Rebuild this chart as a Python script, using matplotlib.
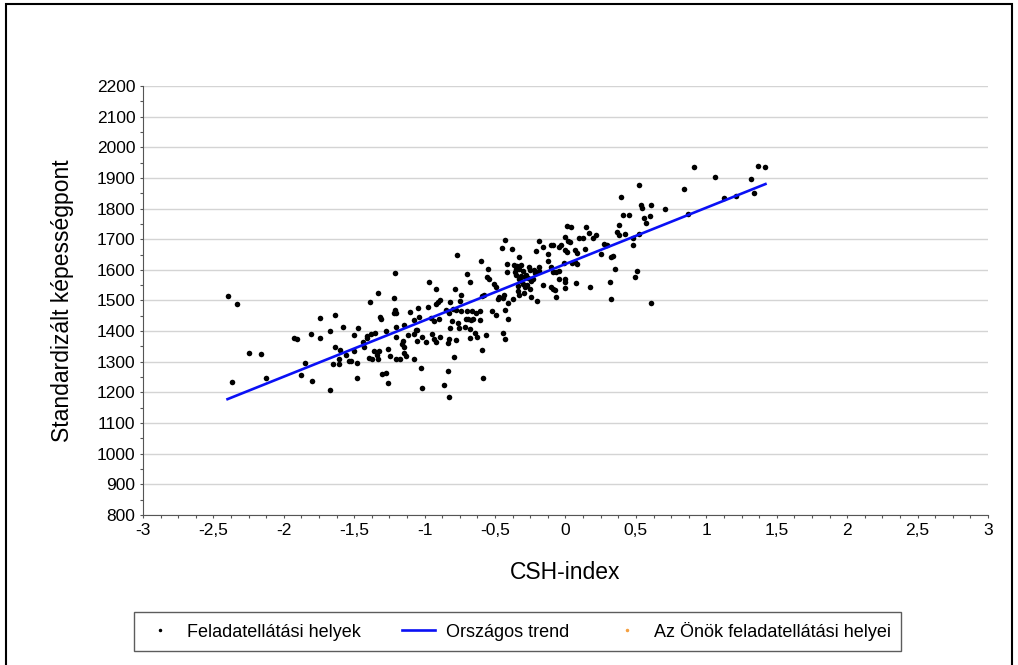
import matplotlib
matplotlib.use("Agg")
from matplotlib import pyplot as plt
from matplotlib.lines import Line2D
from matplotlib.patches import Rectangle
from matplotlib.ticker import MultipleLocator

plt.rcParams['font.family'] = ['Liberation Sans', 'DejaVu Sans']

# CSH-index of each site
csh = [
    -2.40, -2.33, -2.25, -2.16, -2.37, -2.13, -1.93, -1.91, -1.85, -1.88, -1.80, -1.81,
    -1.74, -1.74, -1.64, -1.67, -1.67, -1.58, -1.64, -1.60, -1.56, -1.61, -1.65, -1.61,
    -1.54, -1.52, -1.48, -1.50, -1.50, -1.47, -1.44, -1.43, -1.41, -1.48,
    -0.770, -0.599, -0.547, -1.211, -0.703, -0.556, -0.542, -0.680, -0.509, -0.490,
    -0.969, -0.784, -0.917, -1.334, -0.741, -0.580, -0.594, -0.888, -0.903, -0.922,
    -0.822, -0.751, -0.798, -0.779, -0.850, -1.387, -1.220, -0.974, -1.045, -1.102,
    -1.211, -1.220, -1.201, -1.315, -1.311, -0.703, -0.741, -0.665, -0.632, -0.604,
    -0.523, -0.490, -0.656, -0.694, -0.670, -0.708, -0.604, -0.765, -0.756, -0.717,
    -0.680, -0.642, -0.627, -0.680, -0.898, -0.931, -0.955, -1.040, -1.078, -0.827,
    -0.808, -0.822, -1.149, -1.206, -1.277, -1.353, -1.382, -1.410, -1.116, -1.078,
    -1.064, -1.054, -1.017, -0.945, -0.931, -0.922, -0.888, -0.827, -0.831, -0.779,
    -0.993, -1.054, -1.154, -1.159, -1.145, -1.206, -1.263, -1.249, -1.358, -1.325,
    -1.339, -1.334, -1.396, -1.372, -1.206, -1.173, -1.149, -1.130, -1.078, -0.594,
    -0.789, -0.561, -1.026, -1.306, -1.273, -1.263, -0.831, -0.865, -1.017, -0.827,
    -0.589,
    0.013, 0.041, 0.146, 0.170, 0.217, 0.378, 0.369, 0.383, -0.428, -0.006, 0.018,
    0.032, 0.098, 0.127, 0.193, -0.186, -0.087, -0.101, -0.044, -0.035, -0.163, -0.210,
    -0.452, -0.381, -0.006, 0.013, 0.070, 0.084, 0.136, 0.274, 0.293, 0.321, 0.336,
    0.250, -0.125, -0.125, -0.329, -0.414, -0.414, -0.367, -0.343, -0.315, -0.348,
    -0.329, -0.305, -0.357, -0.262, -0.253, -0.281, -0.291, -0.224, -0.215, -0.186,
    -0.186, -0.091, -0.068, -0.049, -0.106, -0.011, 0.046, 0.070, 0.079, -0.006,
    -0.006, -0.006, 0.075, 0.174, 0.350, 0.317, 0.321, -0.352, -0.319, -0.333, -0.315,
    -0.267, -0.248, -0.229, -0.305, -0.272, -0.286, -0.253, -0.163, -0.091, -0.077,
    -0.101, -0.049, -0.338, -0.333, -0.338, -0.295, -0.248, -0.205, -0.068, -0.376,
    -0.405, -0.438, -0.471, -0.443, -0.481, -0.433, -0.405, -0.447, -0.428,
    0.914, 1.365, 1.417, 1.061, 1.318, 0.838, 0.521, 0.392, 1.128, 1.213, 1.341, 0.535,
    0.540, 0.606, 0.706, 0.407, 0.449, 0.872, 0.559, 0.601, 0.573, 0.426, 0.521, 0.478,
    0.478, 0.511, 0.497, 0.606,
]
# standardised ability score of each site
score = [
    1513, 1488, 1329, 1325, 1233, 1246, 1378, 1375, 1296, 1257, 1236, 1390,
    1444, 1376, 1452, 1400, 1208, 1413, 1348, 1337, 1321, 1310, 1293, 1293,
    1301, 1303, 1297, 1336, 1387, 1411, 1365, 1347, 1376, 1248,
    1648, 1630, 1604, 1589, 1586, 1578, 1569, 1559, 1553, 1545,
    1561, 1536, 1536, 1526, 1518, 1517, 1515, 1502, 1495, 1489,
    1495, 1497, 1473, 1469, 1469, 1494, 1509, 1480, 1477, 1461,
    1469, 1458, 1460, 1447, 1441, 1465, 1467, 1467, 1458, 1465,
    1467, 1453, 1441, 1438, 1436, 1441, 1436, 1425, 1410, 1415,
    1406, 1395, 1380, 1377, 1441, 1433, 1442, 1445, 1436, 1458,
    1432, 1410, 1421, 1412, 1400, 1395, 1391, 1384, 1386, 1391,
    1404, 1404, 1382, 1390, 1373, 1365, 1382, 1373, 1360, 1371,
    1365, 1369, 1369, 1358, 1349, 1382, 1341, 1319, 1336, 1336,
    1322, 1310, 1312, 1310, 1308, 1308, 1328, 1319, 1308, 1338,
    1314, 1386, 1280, 1260, 1264, 1232, 1271, 1225, 1213, 1185,
    1247,
    1744, 1741, 1739, 1721, 1713, 1746, 1724, 1713, 1697, 1708, 1695,
    1691, 1704, 1704, 1704, 1695, 1682, 1682, 1676, 1682, 1674, 1663,
    1671, 1669, 1665, 1658, 1665, 1654, 1669, 1684, 1682, 1643, 1645,
    1652, 1652, 1630, 1643, 1619, 1593, 1615, 1613, 1615, 1604,
    1602, 1597, 1593, 1608, 1600, 1582, 1576, 1600, 1589, 1608,
    1597, 1593, 1593, 1595, 1608, 1623, 1621, 1626, 1619, 1569,
    1560, 1541, 1558, 1543, 1603, 1560, 1504, 1582, 1580, 1571, 1565,
    1573, 1565, 1571, 1554, 1550, 1543, 1539, 1552, 1539, 1534,
    1545, 1571, 1530, 1519, 1547, 1523, 1510, 1497, 1510, 1504,
    1493, 1517, 1510, 1508, 1504, 1469, 1438, 1393, 1375,
    1936, 1939, 1934, 1904, 1898, 1865, 1876, 1839, 1833, 1842, 1850, 1810,
    1803, 1811, 1799, 1779, 1779, 1781, 1770, 1776, 1752, 1718, 1717, 1703,
    1681, 1597, 1576, 1492,
]

# national trend line end points
trend_x = [-2.40, 1.42]
trend_y = [1178, 1880]

y_ticks = list(range(800, 2201, 100))
x_ticks = [-3, -2.5, -2, -1.5, -1, -0.5, 0, 0.5, 1, 1.5, 2, 2.5, 3]
x_labels = ['-3', '-2,5', '-2', '-1,5', '-1', '-0,5', '0', '0,5', '1', '1,5', '2', '2,5', '3']

fig = plt.figure(figsize=(10.18, 6.65), dpi=100)
ax = fig.add_axes([0.1405, 0.2256, 0.9705 - 0.1405, 0.8707 - 0.2256])

ax.scatter(csh, score, s=16, color='black', zorder=3, linewidths=0)
ax.plot(trend_x, trend_y, color='#0a10f5', lw=1.9, zorder=4)

ax.set_xlim(-3, 3)
ax.set_ylim(800, 2200)
ax.set_xticks(x_ticks)
ax.set_xticklabels(x_labels)
ax.set_yticks(y_ticks)
ax.xaxis.set_minor_locator(MultipleLocator(0.125))
ax.yaxis.set_minor_locator(MultipleLocator(50))
ax.tick_params(which='both', direction='out', length=2.5, width=0.8, color='#555555',
               labelsize=12.5, labelcolor='black', pad=3)
ax.yaxis.grid(True, color='#d4d4d4', lw=1)
ax.set_axisbelow(True)
for side in ['top', 'right']:
    ax.spines[side].set_visible(False)
for side in ['left', 'bottom']:
    ax.spines[side].set_color('#555555')

ax.set_xlabel('CSH-index', fontsize=16.5, labelpad=17)
ax.set_ylabel('Standardizált képességpont', fontsize=16.5, labelpad=16)

handles = [
    Line2D([], [], ls='none', marker='o', markersize=1.5, color='black'),
    Line2D([], [], color='#0a10f5', lw=1.9),
    Line2D([], [], ls='none', marker='o', markersize=1.5, color='#f5a040'),
]
labels = ['Feladatellátási helyek', 'Országos trend', 'Az Önök feladatellátási helyei']
leg = fig.legend(handles, labels, loc='center', bbox_to_anchor=(0.508, 0.051), ncol=3,
                 fontsize=13, frameon=True, fancybox=False, edgecolor='#333333',
                 handlelength=1.8, handletextpad=0.6, columnspacing=2.3, borderpad=0.55)
leg.get_frame().set_linewidth(1.0)

fig.patches.append(Rectangle((0.006, -0.01), 0.988, 1.004, transform=fig.transFigure,
                             fill=False, edgecolor='black', lw=1.5))

fig.savefig('out.png', dpi=100)
